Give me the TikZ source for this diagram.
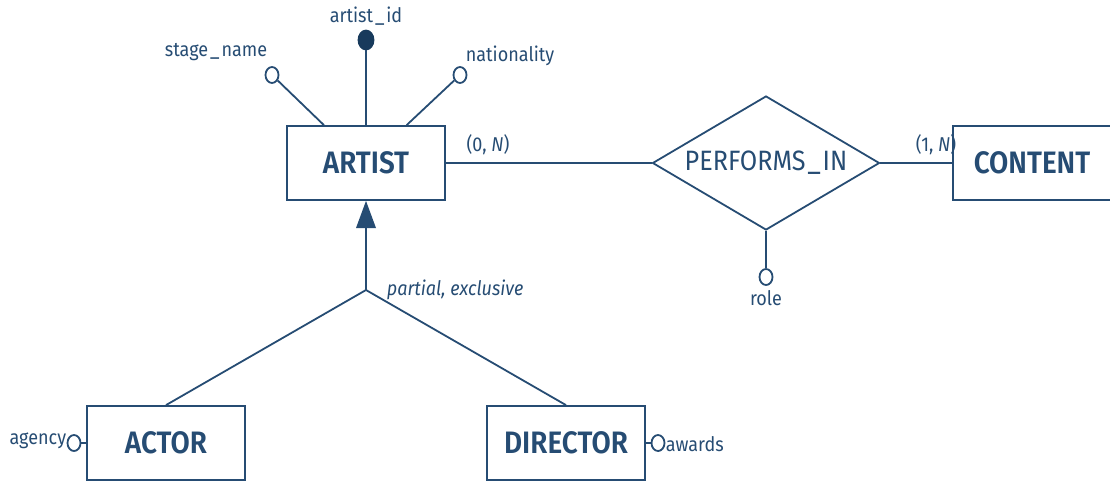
\documentclass[tikz,border=0pt]{standalone}
\usepackage{fontspec}
\setmainfont[FakeStretch=0.9]{Fira Sans}
\newfontfamily\entfont[FakeStretch=0.9]{Fira Sans SemiBold}
\usetikzlibrary{shapes.geometric}
\definecolor{erblue}{HTML}{264C73}
\definecolor{erdark}{HTML}{183A5C}
\newcommand{\us}{\kern2pt\_\kern2pt}

\begin{document}
\begin{tikzpicture}[x=1pt, y=-1pt, line width=1.8pt, color=erblue,
    ent/.style={rectangle, draw, minimum width=158pt, minimum height=74pt, inner sep=0pt, font=\entfont\fontsize{31}{31}\selectfont},
    rel/.style={diamond, draw, aspect=1.7, minimum width=227pt, minimum height=134pt, inner sep=0pt, font=\fontsize{28}{28}\selectfont},
    attr/.style={ellipse, draw, fill=white, minimum width=13pt, minimum height=16pt, inner sep=0pt},
    key/.style={ellipse, draw=erdark, fill=erdark, minimum width=15pt, minimum height=19pt, inner sep=0pt},
    lbl/.style={inner sep=0pt, font=\fontsize{20}{20}\selectfont}]
    \useasboundingbox (0,0) rectangle (1110,482);

    \node[ent] (artist) at (366,163) {ARTIST};
    \node[ent] (content) at (1032,163) {CONTENT};
    \node[ent] (actor) at (166,443) {ACTOR};
    \node[ent] (director) at (566,443) {DIRECTOR};
    \node[rel] (performs) at (766,163) {PERFORMS\us IN};

    \node[key] (artistid) at (366,40) {};
    \node[attr] (stagename) at (272,75) {};
    \node[attr] (nationality) at (460,75) {};
    \node[attr] (role) at (766,277) {};
    \node[attr] (agency) at (74,443) {};
    \node[attr] (awards) at (658,443) {};

    \node[lbl] (artistidlbl) at (366,16) {artist\us id};
    \node[lbl, anchor=east] (stagenamelbl) at (268,52) {stage\us name};
    \node[lbl, anchor=west] (nationalitylbl) at (465,56) {nationality};
    \node[lbl] (rolelbl) at (766,298) {role};
    \node[lbl, anchor=east] (agencylbl) at (67,441) {agency};
    \node[lbl, anchor=west] (awardslbl) at (665,444) {awards};

    \node[lbl] (cardleft) at (488,145) {(0, \textit{N})};
    \node[lbl] (cardright) at (936,145) {(1, \textit{N})};
    \node[lbl, anchor=west] (isalbl) at (386,290) {\textit{partial, exclusive}};

    \draw (artistid) -- (artist);
    \draw (stagename) -- (artist.138);
    \draw (nationality) -- (artist.43);
    \draw (artist) -- (performs);
    \draw (performs) -- (content);
    \draw (performs) -- (role);
    \draw (agency) -- (actor);
    \draw (awards) -- (director);

    \coordinate (isabase) at (366,228);
    \coordinate (split) at (366,290);
    \fill (artist.south) -- (356,228) -- (376,228) -- cycle;
    \draw (isabase) -- (split);
    \draw (split) -- (actor.north);
    \draw (split) -- (director.north);
  \end{tikzpicture}
\end{document}
